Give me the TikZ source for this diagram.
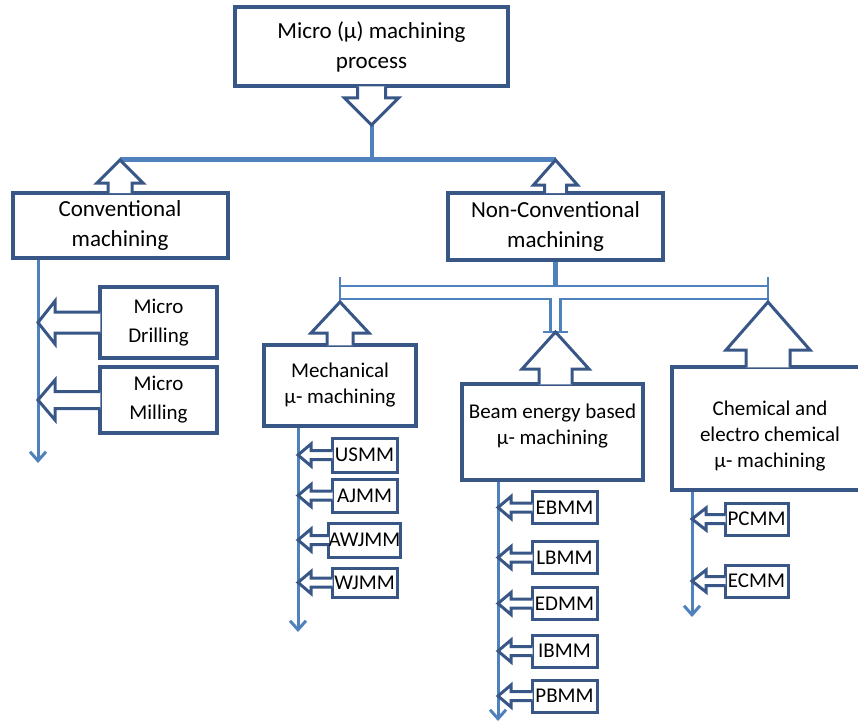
\documentclass[tikz,border=0pt]{standalone}
\usepackage{fontspec}
\setmainfont{Carlito}
\usetikzlibrary{arrows.meta,calc}
\definecolor{boxline}{RGB}{56,87,135}
\definecolor{linkblue}{RGB}{79,129,189}
\tikzset{
    mainbox/.style={draw=boxline,line width=4pt,fill=white,align=center,inner sep=0pt,font=\fontsize{23}{30}\selectfont},
    groupbox/.style={draw=boxline,line width=3.5pt,fill=white,align=center,inner sep=0pt,font=\fontsize{21}{26}\selectfont},
    grouptext/.style={align=center,inner sep=0pt,font=\fontsize{21}{26}\selectfont},
    leafbox/.style={draw=boxline,line width=3pt,fill=white,inner sep=0pt,minimum width=65pt,font=\fontsize{21}{24}\selectfont},
    blockarrow/.style={draw=boxline,line width=3pt,fill=white,line join=miter},
    busthick/.style={linkblue,line width=5pt},
    busthin/.style={linkblue,line width=2.5pt},
    subline/.style={linkblue,line width=3pt,-{Straight Barb[length=9pt,width=16pt]}}
}
% outlined block arrow, open at its base: base, tip, stem half width, head half width, head length
\newcommand{\BlockArrow}[5]{%
    \coordinate (abase) at (#1);%
    \coordinate (atip) at (#2);%
    \coordinate (ahead) at ($(atip)!#5pt!(abase)$);%
    \coordinate (afoot) at ($(abase)!-2pt!(atip)$);%
    \filldraw[blockarrow] ($(afoot)!#3pt!90:(atip)$) -- ($(ahead)!#3pt!90:(atip)$) -- ($(ahead)!#4pt!90:(atip)$) -- (atip)
        -- ($(ahead)!#4pt!-90:(atip)$) -- ($(ahead)!#3pt!-90:(atip)$) -- ($(afoot)!#3pt!-90:(atip)$);%
}

\begin{document}
\begin{tikzpicture}[x=1pt,y=-1pt]
    \useasboundingbox (0,0) rectangle (858,722);

    % bus points
    \coordinate (topTip) at (371.5,125);
    \coordinate (busM) at (371.5,160);
    \coordinate (busL) at (120,160);
    \coordinate (busR) at (555.5,160);
    \coordinate (nbus) at (555.5,286);
    \coordinate (dbUL) at (340,286);
    \coordinate (dbUR) at (768,286);
    \coordinate (dbLL) at (340,299);
    \coordinate (dbLR) at (768,299);
    \coordinate (dbM) at (555.5,299);
    \coordinate (dbFoot) at (555.5,332);
    \coordinate (mechTip) at (340,302);
    \coordinate (chemTip) at (768,302);
    % ends of the vertical lists
    \coordinate (convEnd) at (38,463);
    \coordinate (mechEnd) at (298,632);
    \coordinate (beamEnd) at (498,721);
    \coordinate (chemEnd) at (692,617);

    % top level
    \node[mainbox,minimum width=273pt,minimum height=79pt] (top) at (371.5,47) {Micro (µ) machining\\process};
    \node[mainbox,minimum width=215pt,minimum height=65pt] (conv) at (120,225.5) {Conventional\\machining};
    \node[mainbox,minimum width=215pt,minimum height=67pt] (nonconv) at (555.5,226.5) {Non-Conventional\\machining};

    \draw[busthick] (busL) -- (busR);
    \draw[line width=4pt,linkblue] (topTip) -- (busM);
    \BlockArrow{top.south}{topTip}{14}{27}{27}
    \BlockArrow{conv.north}{busL}{12}{23}{23}
    \BlockArrow{nonconv.north}{busR}{11}{22}{25}

    % double bus under non-conventional
    \draw[busthick] (nonconv.south) -- (nbus);
    \draw[busthin] (dbUL) -- (dbUR);
    \draw[busthin] (dbLL) -- ([xshift=-5pt]dbM) -- ([xshift=-5pt]dbFoot);
    \draw[busthin] (dbLR) -- ([xshift=5pt]dbM) -- ([xshift=5pt]dbFoot);
    \draw[busthin] ([xshift=-13pt]dbFoot) -- ([xshift=12pt]dbFoot);
    \draw[busthin] ([yshift=9pt]dbUL) -- (mechTip);
    \draw[busthin] ([yshift=9pt]dbUR) -- (chemTip);

    % vertical lists
    \draw[subline] (convEnd |- conv.south) -- (convEnd);

    % second level
    \node[groupbox,minimum width=152pt,minimum height=81pt] (mech) at (340,385.5) {Mechanical\\µ- machining};
    \node[groupbox,minimum width=181pt,minimum height=96pt] (beam) at (552.5,432) {};
    \node[grouptext] (beamText) at ([yshift=6pt]beam.center) {Beam energy based\\µ- machining};
    \node[groupbox,minimum width=196pt,minimum height=123pt] (chem) at (770,428.5) {};
    \node[grouptext] (chemText) at ([yshift=-8pt]chem.center) {Chemical and\\electro chemical\\µ- machining};
    \BlockArrow{mech.north}{mechTip}{13}{29}{31}
    \BlockArrow{beam.north -| dbFoot}{dbFoot}{16.5}{33.5}{37}
    \BlockArrow{chem.north -| chemTip}{chemTip}{22}{42}{48}

    \draw[subline] (mechEnd |- mech.south) -- (mechEnd);
    \draw[subline] (beamEnd |- beam.south) -- (beamEnd);
    \draw[subline] (chemEnd |- chem.south) -- (chemEnd);

    % conventional processes
    \node[groupbox,font=\fontsize{21}{29}\selectfont,minimum width=117pt,minimum height=71pt] (drill) at (158.5,322.5) {Micro\\Drilling};
    \node[groupbox,font=\fontsize{21}{29}\selectfont,minimum width=117pt,minimum height=66pt] (mill) at (158.5,400) {Micro\\Milling};
    \BlockArrow{drill.west}{drill.west -| convEnd}{10.5}{21.5}{17}
    \BlockArrow{mill.west}{mill.west -| convEnd}{8.5}{20}{17}

    % leaf processes
    \foreach \name/\yc/\h in {USMM/455/34pt, AJMM/495.5/33pt, AWJMM/540/34pt, WJMM/582.5/29pt} {
        \node[leafbox,minimum height=\h] (\name) at (364.5,\yc) {\name};
        \BlockArrow{\name.west}{\name.west -| mechEnd}{4.5}{11}{13}
    }
    \foreach \name/\yc in {EBMM/507.5, LBMM/557.5, EDMM/603.5, IBMM/651, PBMM/696} {
        \node[leafbox,minimum height=32pt] (\name) at (564.5,\yc) {\name};
        \BlockArrow{\name.west}{\name.west -| beamEnd}{4.5}{11}{13}
    }
    \foreach \name/\yc in {PCMM/519, ECMM/581} {
        \node[leafbox,minimum width=63pt,minimum height=32pt] (\name) at (756.5,\yc) {\name};
        \BlockArrow{\name.west}{\name.west -| chemEnd}{4.5}{11}{14}
    }
\end{tikzpicture}
\end{document}
